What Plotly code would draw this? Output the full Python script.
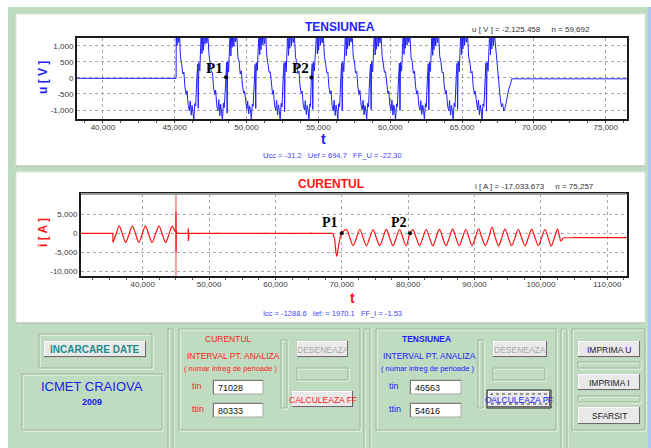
import plotly.graph_objects as go

W, H = 651, 448
SANS = "Liberation Sans, Arial, sans-serif"
SERIF = "Liberation Serif, Times New Roman, serif"


def px(x):
    return x / W


def py(y):
    return 1 - y / H


# ---------------- voltage record u(t) ----------------
u_t = [
    38200, 45100,
    45105, 45160, 45210, 45280, 45340, 45400, 45480, 45560, 45640, 45710, 45800, 45860, 45940, 46020, 46080, 46150,
    46210, 46270, 46330, 46400, 46460, 46540, 46600, 46640, 46680, 46750, 46800,
    46850, 46900, 46940, 46990, 47050, 47110, 47160, 47230, 47310, 47390, 47470, 47550, 47630, 47700, 47790, 47850,
    47930, 48010, 48070, 48140, 48200, 48260, 48320, 48390, 48450, 48570, 48610, 48650, 48690, 48750, 48800,
    48860, 48910, 48950, 49000, 49060, 49120, 49170, 49240, 49320, 49400, 49480, 49560, 49640, 49710, 49800, 49860,
    49940, 50020, 50080, 50150, 50210, 50270, 50330, 50400, 50460, 50540, 50600, 50640, 50680, 50750, 50810,
    50870, 50920, 50960, 51010, 51070, 51130, 51180, 51250, 51330, 51410, 51490, 51570, 51650, 51720, 51810, 51870,
    51950, 52030, 52090, 52160, 52220, 52280, 52340, 52410, 52470, 52550, 52610, 52650, 52690, 52760, 52820,
    52870, 52920, 52960, 53010, 53070, 53130, 53180, 53250, 53330, 53410, 53490, 53570, 53650, 53720, 53810, 53870,
    53950, 54030, 54090, 54160, 54220, 54280, 54340, 54410, 54450, 54510, 54570, 54610, 54650, 54720, 54780,
    54880, 54930, 54970, 55020, 55080, 55140, 55190, 55260, 55340, 55420, 55500, 55580, 55660, 55730, 55820, 55880,
    55960, 56040, 56100, 56170, 56230, 56290, 56350, 56420, 56480, 56560, 56620, 56660, 56700, 56770, 56830,
    56890, 56940, 56980, 57030, 57090, 57150, 57200, 57270, 57350, 57430, 57510, 57590, 57670, 57740, 57830, 57890,
    57970, 58050, 58110, 58180, 58240, 58300, 58360, 58430, 58490, 58570, 58630, 58670, 58710, 58780, 58840,
    58900, 58950, 58990, 59040, 59100, 59160, 59210, 59280, 59360, 59440, 59520, 59600, 59680, 59750, 59840, 59900,
    59980, 60060, 60120, 60190, 60250, 60310, 60370, 60440, 60500, 60580, 60640, 60680, 60720, 60790, 60850,
    60910, 60960, 61000, 61050, 61110, 61170, 61220, 61290, 61370, 61450, 61530, 61610, 61690, 61760, 61850, 61910,
    61990, 62070, 62130, 62200, 62260, 62320, 62380, 62450, 62510, 62590, 62650, 62690, 62730, 62800, 62860,
    62910, 62960, 63000, 63050, 63110, 63170, 63220, 63290, 63370, 63450, 63530, 63610, 63690, 63760, 63850, 63910,
    63990, 64070, 64130, 64200, 64260, 64320, 64380, 64450, 64510, 64590, 64650, 64690, 64730, 64800, 64860,
    64920, 64970, 65010, 65060, 65120, 65180, 65230, 65300, 65380, 65460, 65540, 65620, 65700, 65770, 65860, 65920,
    66000, 66080, 66140, 66210, 66270, 66330, 66390, 66460, 66520, 66600, 66660, 66700, 66740, 66810, 66870,
    66930, 66980, 67020, 67070, 67130, 67190, 67240, 67310, 67390, 67470, 67560, 67650, 67740, 67820, 67900, 67980,
    68060, 68150, 68250, 68330, 68400, 68460, 76480,
]
u_v = [
    -15, -15,
    1500, 1000, 1450, 1100, 1350, 650, 450, 120, 180, -280, -520, -400, -860, -1020, -720, -1160,
    -860, -1010, -1300, -800, -880, 0, 430, -950, 480, 220, 1000,
    1500, 750, 1400, 850, 1550, 1050, 1450, 1080, 1320, 700, 480, 180, 160, -280, -520, -380,
    -880, -1020, -680, -1180, -820, -1050, -1320, -780, -920, 20, 480, -1100, 520, 180, 1000,
    1500, 680, 1300, 950, 1500, 980, 1480, 1120, 1380, 620, 520, 120, 220, -220, -480, -420,
    -830, -980, -720, -1120, -870, -980, -1280, -820, -880, -10, 420, -950, 480, 230, 1020,
    1500, 720, 1380, 880, 1560, 1020, 1420, 1060, 1360, 680, 470, 170, 190, -260, -510, -390,
    -860, -1010, -690, -1160, -840, -1020, -1310, -790, -910, 10, 460, -1050, 510, 190, 990,
    1500, 700, 1340, 920, 1540, 990, 1460, 1100, 1340, 640, 510, 140, 210, -240, -490, -410,
    -850, -1000, -710, -1140, -860, -990, -1290, -810, -890, 10, 440, -980, 490, 210, 1010,
    1500, 740, 1360, 870, 1550, 1010, 1440, 1090, 1370, 660, 490, 160, 180, -270, -500, -400,
    -870, -1030, -700, -1170, -850, -1010, -1300, -800, -900, 0, 450, -1020, 500, 200, 1000,
    1500, 690, 1330, 910, 1520, 1000, 1470, 1110, 1330, 650, 500, 150, 200, -250, -520, -390,
    -840, -990, -700, -1150, -860, -1000, -1280, -790, -900, 10, 430, -990, 510, 190, 1000,
    1500, 710, 1370, 890, 1560, 980, 1450, 1080, 1350, 670, 480, 170, 190, -230, -490, -410,
    -860, -1010, -690, -1160, -840, -1020, -1300, -810, -890, -10, 460, -1010, 490, 210, 990,
    1500, 730, 1340, 920, 1530, 1020, 1430, 1100, 1360, 640, 510, 140, 210, -260, -510, -400,
    -850, -1000, -710, -1140, -850, -990, -1310, -800, -910, 0, 440, -1000, 500, 200, 1010,
    1500, 700, 1360, 880, 1550, 990, 1460, 1090, 1340, 660, 490, 160, 180, -250, -500, -390,
    -870, -1020, -700, -1160, -860, -1010, -1290, -790, -900, 10, 450, -980, 520, 190, 1000,
    1500, 720, 1350, 900, 1540, 1010, 1440, 1110, 1350, 650, 500, 150, 200, -240, -510, -410,
    -850, -1000, -690, -1150, -850, -1000, -1300, -810, -890, 0, 460, -1020, 490, 210, 1000,
    1500, 710, 1350, 900, 1550, 1000, 1450, 1100, 650, 250, -250, -600, -900, -800, -1030, -950,
    -800, -560, -350, -250, -80, -30, -30,
]
u_marks_t = [48570, 54510]
u_marks_v = [20, 10]

# ---------------- current record i(t) ----------------
i_flat_t = [30700, 35500, 35515]
i_flat_v = [0, 0, -2350]

i_start_t = [35515, 35990, 36460, 36950, 37440, 37940, 38440, 38930, 39420, 39920, 40400, 40900, 41400,
             41920, 42450, 42950, 43460, 43960, 44460, 44800, 44990]
i_start_v = [-2350, -230, 1900, -230, -2350, -230, 1900, -230, -2350, -230, 1900, -230, -2350,
             -230, 1900, -230, -2350, -230, 1900, 700, 250]

i_mid_t = [44990, 45010, 45030, 45050, 45200, 46000, 46010, 46020, 46860, 46870, 46880, 46890, 46950, 46960,
           46970, 48500, 48510, 48520, 51200, 51210, 51220, 54800, 54810, 54820, 58300, 58310, 58320,
           62100, 62110, 62120, 65400, 65410, 65420, 68650]
i_mid_v = [250, 5600, -5000, 600, 0, 0, 180, 0, 0, 1300, -2000, 0, 150, -120,
           0, 0, -200, 0, 0, 200, 0, 0, -180, 0, 0, 220, 0,
           0, -200, 0, 0, 180, 0, 0]

i_burst_t = [45000, 45000]
i_burst_v = [-12000, 12000]

i_run_t = [68650, 68900, 69230, 69550, 69990,
           70700, 71200, 71710, 72210, 72720, 73210, 73710, 74200, 74700, 75200, 75700, 76200,
           76700, 77200, 77700, 78200, 78700, 79200, 79700, 80270, 80700, 81210, 81710, 82210,
           82720, 83210, 83710, 84200, 84700, 85200, 85700, 86200, 86700, 87190, 87690, 88180,
           88680, 89160, 89640, 90120, 90600, 91110, 91620, 92130, 92650, 93130, 93620, 94100,
           94590, 95090, 95590, 96090, 96590, 97090, 97600, 98100, 98610, 99110, 99615, 100110,
           100620, 101090, 101560, 102030, 102500, 102800, 102980, 103200, 103370]
i_run_v = [0, -1500, -6000, -2800, 0,
           950, -1150, -3200, -1150, 1000, -1150, -3250, -1150, 900, -1150, -3200, -1150,
           1050, -1150, -3250, -1150, 1000, -1150, -3200, 0, 950, -1150, -3200, -1150,
           1000, -1150, -3250, -1150, 1050, -1150, -3200, -1150, 1100, -1150, -3250, -1150,
           1000, -1150, -3200, -1150, 1200, -1150, -3150, -1150, 1600, -1150, -3250, -1150,
           1100, -1150, -3200, -1150, 1000, -1150, -3250, -1150, 1050, -1150, -3200, -1150,
           1000, -1150, -3250, -1150, 1100, -800, -2000, -1600, -1150]

i_tail_t = [103370, 105000, 105010, 105020, 108000, 108010, 108020, 112970]
i_tail_v = [-1150, -1100, -900, -1100, -1100, -1300, -1100, -1100]

i_marks_t = [69990, 80270]
i_marks_v = [0, 0]

# axis ticks
u_xticks = [40000, 45000, 50000, 55000, 60000, 65000, 70000, 75000]
u_xtext = ["40,000", "45,000", "50,000", "55,000", "60,000", "65,000", "70,000", "75,000"]
u_yticks = [1000, 500, 0, -500, -1000]
u_ytext = ["1,000", "500", "0", "-500", "-1,000"]
i_xticks = [40000, 50000, 60000, 70000, 80000, 90000, 100000, 110000]
i_xtext = ["40,000", "50,000", "60,000", "70,000", "80,000", "90,000", "100,000", "110,000"]
i_yticks = [5000, 0, -5000, -10000]
i_ytext = ["5,000", "0", "-5,000", "-10,000"]

BLUE = "#2020ff"
RED = "#ff1414"

fig = go.Figure()
fig.add_trace(go.Scatter(x=u_t, y=u_v, mode="lines", line=dict(color=BLUE, width=1), xaxis="x", yaxis="y"))
fig.add_trace(go.Scatter(x=u_marks_t, y=u_marks_v, mode="markers", marker=dict(color="black", size=4),
                         xaxis="x", yaxis="y"))

fig.add_trace(go.Scatter(x=i_burst_t, y=i_burst_v, mode="lines", line=dict(color="#f7a0a0", width=2),
                         xaxis="x2", yaxis="y2"))
for tt, vv, shape in [(i_flat_t, i_flat_v, "linear"), (i_start_t, i_start_v, "spline"),
                      (i_mid_t, i_mid_v, "linear"), (i_run_t, i_run_v, "spline"),
                      (i_tail_t, i_tail_v, "linear")]:
    fig.add_trace(go.Scatter(x=tt, y=vv, mode="lines", line=dict(color=RED, width=1.2, shape=shape),
                             xaxis="x2", yaxis="y2"))
fig.add_trace(go.Scatter(x=i_marks_t, y=i_marks_v, mode="markers", marker=dict(color="black", size=4),
                         xaxis="x2", yaxis="y2"))

axis_common = dict(showline=True, mirror=True, linecolor="#1c1c1c", linewidth=2,
                   showgrid=True, gridcolor="#a8a8a8", griddash="dot", gridwidth=1,
                   zeroline=False, tickfont=dict(family=SANS, size=8, color="#3a3a3a"),
                   tickmode="array", fixedrange=True)

shapes = []
annotations = []


def rect(x0, y0, x1, y1, fill=None, line=None, width=1, dash=None):
    shapes.append(dict(type="rect", xref="paper", yref="paper", layer="below",
                       x0=px(x0), x1=px(x1), y0=py(y1), y1=py(y0),
                       fillcolor=fill if fill else "rgba(0,0,0,0)",
                       line=dict(color=line if line else "rgba(0,0,0,0)", width=width,
                                 dash=dash if dash else "solid")))


def hline(x0, x1, y, color, width=1, layer="below"):
    shapes.append(dict(type="line", xref="paper", yref="paper", layer=layer,
                       x0=px(x0), x1=px(x1), y0=py(y), y1=py(y), line=dict(color=color, width=width)))


def vline(x, y0, y1, color, width=1):
    shapes.append(dict(type="line", xref="paper", yref="paper", layer="below",
                       x0=px(x), x1=px(x), y0=py(y0), y1=py(y1), line=dict(color=color, width=width)))


def text(x, y, s, size, color, bold=False, family=SANS, xanchor="center", angle=0):
    if bold:
        s = "<b>" + s + "</b>"
    annotations.append(dict(x=px(x), y=py(y), xref="paper", yref="paper", text=s, showarrow=False,
                            xanchor=xanchor, yanchor="middle", textangle=angle,
                            font=dict(family=family, size=size, color=color)))


def groove(x0, y0, x1, y1):
    rect(x0 + 1, y0 + 1, x1 + 1, y1 + 1, line="#f2faf2")
    rect(x0, y0, x1, y1, line="#9cb29c")


def button(x0, y0, x1, y1, label, color, bold=False, size=9, focus=False):
    rect(x0, y0, x1, y1, fill="#e9e9e9", line="#c4c4c4")
    hline(x0, x1, y0 + 0.5, "#ffffff")
    vline(x0 + 0.5, y0, y1, "#ffffff")
    hline(x0, x1, y1 - 0.5, "#6a6a6a")
    vline(x1 - 0.5, y0, y1, "#6a6a6a")
    if focus:
        rect(x0 - 1, y0 - 1, x1 + 1, y1 + 1, line="#202020")
        rect(x0 + 3, y0 + 3, x1 - 3, y1 - 3, line="#404040", dash="dot")
    text((x0 + x1) / 2, (y0 + y1) / 2 + 0.5, label, size, color, bold=bold)


def field(x0, y0, x1, y1, value):
    rect(x0, y0, x1, y1, fill="#ffffff", line="#a8a8a8")
    hline(x0, x1, y0 + 0.5, "#7a7a7a")
    vline(x0 + 0.5, y0, y1, "#7a7a7a")
    text(x0 + 3, (y0 + y1) / 2 + 0.5, value, 9, "#101010", xanchor="left")


# window background
rect(0, 0, 651, 448, fill="#ffffff")
rect(8, 7, 648, 448, fill="#c0dcc0")
rect(648, 7, 651, 448, fill="#a9c9ec")

# chart panels
rect(16, 14, 645, 166, fill="#ffffff", line="#d8e8d8")
hline(16, 645, 166, "#a8b8a8")
rect(16, 172, 645, 323, fill="#ffffff", line="#d8e8d8")
hline(16, 645, 323, "#a8b8a8")
# lighter top edge of the current chart frame
hline(81, 626, 194, "#9a9a9a", width=2, layer="above")

# chart texts
text(340, 27, "TENSIUNEA", 12, "#1e1eff", bold=True)
text(470, 29.5, "u [ V ] = -2,125.458&nbsp;&nbsp;&nbsp;&nbsp;&nbsp;n = 59,692", 8, "#303030", xanchor="left")
text(43, 78, "u [ V ]", 12, "#2020ff", bold=True, angle=-90)
text(323, 138.5, "t", 14, "#2020ff", bold=True)
text(261, 155.5, "Ucc = -31.2&nbsp;&nbsp;&nbsp;Uef = 694.7&nbsp;&nbsp;&nbsp;FF_U = -22.30", 7.5, "#4040ff",
     xanchor="left")
text(214, 68, "P1", 15, "#000000", bold=True, family=SERIF)
text(300, 68, "P2", 15, "#000000", bold=True, family=SERIF)

text(331, 184, "CURENTUL", 12, "#ff1414", bold=True)
text(473, 186, "i [ A ] = -17,033.673&nbsp;&nbsp;&nbsp;&nbsp;&nbsp;n = 75,257", 8, "#303030", xanchor="left")
text(43, 233, "i [ A ]", 12, "#ff1414", bold=True, angle=-90)
text(353, 298, "t", 14, "#ff1414", bold=True)
text(261, 313, "Icc = -1288.6&nbsp;&nbsp;&nbsp;Ief: = 1970.1&nbsp;&nbsp;&nbsp;FF_I = -1.53", 7.5, "#4040ff",
     xanchor="left")
text(330, 222.5, "P1", 14, "#000000", bold=True, family=SERIF)
text(398.5, 222.5, "P2", 14, "#000000", bold=True, family=SERIF)

# control area
groove(39, 334, 152, 368)
button(44, 341, 146, 357, "INCARCARE DATE", "#238c8c", bold=True, size=10)
groove(22, 374, 162, 430)
text(92, 386.5, "ICMET CRAIOVA", 13, "#1a1aee")
text(92, 402, "2009", 9, "#1a1aee", bold=True)

groove(168, 329, 173, 449)
groove(179, 329, 360, 430)
text(228, 339, "CURENTUL", 8.5, "#ff2020")
text(233.5, 356, "INTERVAL PT. ANALIZA", 8.5, "#ff2020")
text(230.5, 368.5, "( numar intreg de perioade )", 7.5, "#ff2020")
text(190, 385.5, "tin", 9, "#ff2020", xanchor="left")
text(190, 408.5, "ttin", 9, "#ff2020", xanchor="left")
field(213, 380, 263, 394, "71028")
field(213, 403, 263, 417, "80333")
groove(281, 340, 287, 408)
button(297, 341, 348, 357, "DESENEAZA", "#a8a8a8", size=8.5)
groove(297, 368, 348, 380)
button(292, 391, 353, 407, "CALCULEAZA FF", "#ff2020", size=8.5)

groove(364, 329, 370, 449)
groove(376, 329, 556, 430)
text(426, 339, "TENSIUNEA", 8.5, "#2020ff", bold=True)
text(429.5, 356, "INTERVAL PT. ANALIZA", 8.5, "#2020ff")
text(427, 368.5, "( numar intreg de perioade )", 7.5, "#2020ff")
text(387, 385.5, "tin", 9, "#2020ff", xanchor="left")
text(387, 408.5, "ttin", 9, "#2020ff", xanchor="left")
field(410, 380, 461, 394, "46563")
field(410, 403, 461, 417, "54616")
groove(478, 340, 483, 408)
button(493, 341, 547, 357, "DESENEAZA", "#a8a8a8", size=8.5)
groove(493, 368, 545, 380)
button(488, 391, 550, 407, "CALCULEAZA FF", "#2020ff", size=8.5, focus=True)

groove(561, 329, 567, 449)
groove(572, 329, 645, 430)
button(578, 341, 640, 357, "IMPRIMA U", "#202020", size=8.5)
groove(578, 362, 640, 368)
button(578, 374, 640, 390, "IMPRIMA I", "#202020", size=8.5)
groove(578, 396, 640, 402)
button(578, 407, 640, 424, "SFARSIT", "#202020", size=8.5)

fig.update_layout(
    width=W, height=H, margin=dict(l=0, r=0, t=0, b=0),
    paper_bgcolor="#ffffff", plot_bgcolor="rgba(0,0,0,0)", showlegend=False,
    xaxis=dict(axis_common, domain=[px(77), px(627)], range=[38200, 76480], anchor="y",
               tickvals=u_xticks, ticktext=u_xtext, ticks="outside", ticklen=2, tickcolor="#333",
               ticklabelstandoff=-3,
               minor=dict(tickmode="linear", tick0=0, dtick=1250, ticks="outside", ticklen=2,
                          tickcolor="#555", showgrid=False)),
    yaxis=dict(axis_common, domain=[py(119), py(38)], range=[-1280, 1240], anchor="x",
               tickvals=u_yticks, ticktext=u_ytext),
    xaxis2=dict(axis_common, domain=[px(81), px(627)], range=[30700, 112970], anchor="y2",
                tickvals=i_xticks, ticktext=i_xtext, ticks="outside", ticklen=2, tickcolor="#333",
                ticklabelstandoff=-3,
                minor=dict(tickmode="linear", tick0=0, dtick=2500, ticks="outside", ticklen=2,
                           tickcolor="#555", showgrid=False)),
    yaxis2=dict(axis_common, domain=[py(276), py(194)], range=[-11130, 10260], anchor="x2",
                tickvals=i_yticks, ticktext=i_ytext),
    shapes=shapes, annotations=annotations,
)

fig.write_html("out.html")
